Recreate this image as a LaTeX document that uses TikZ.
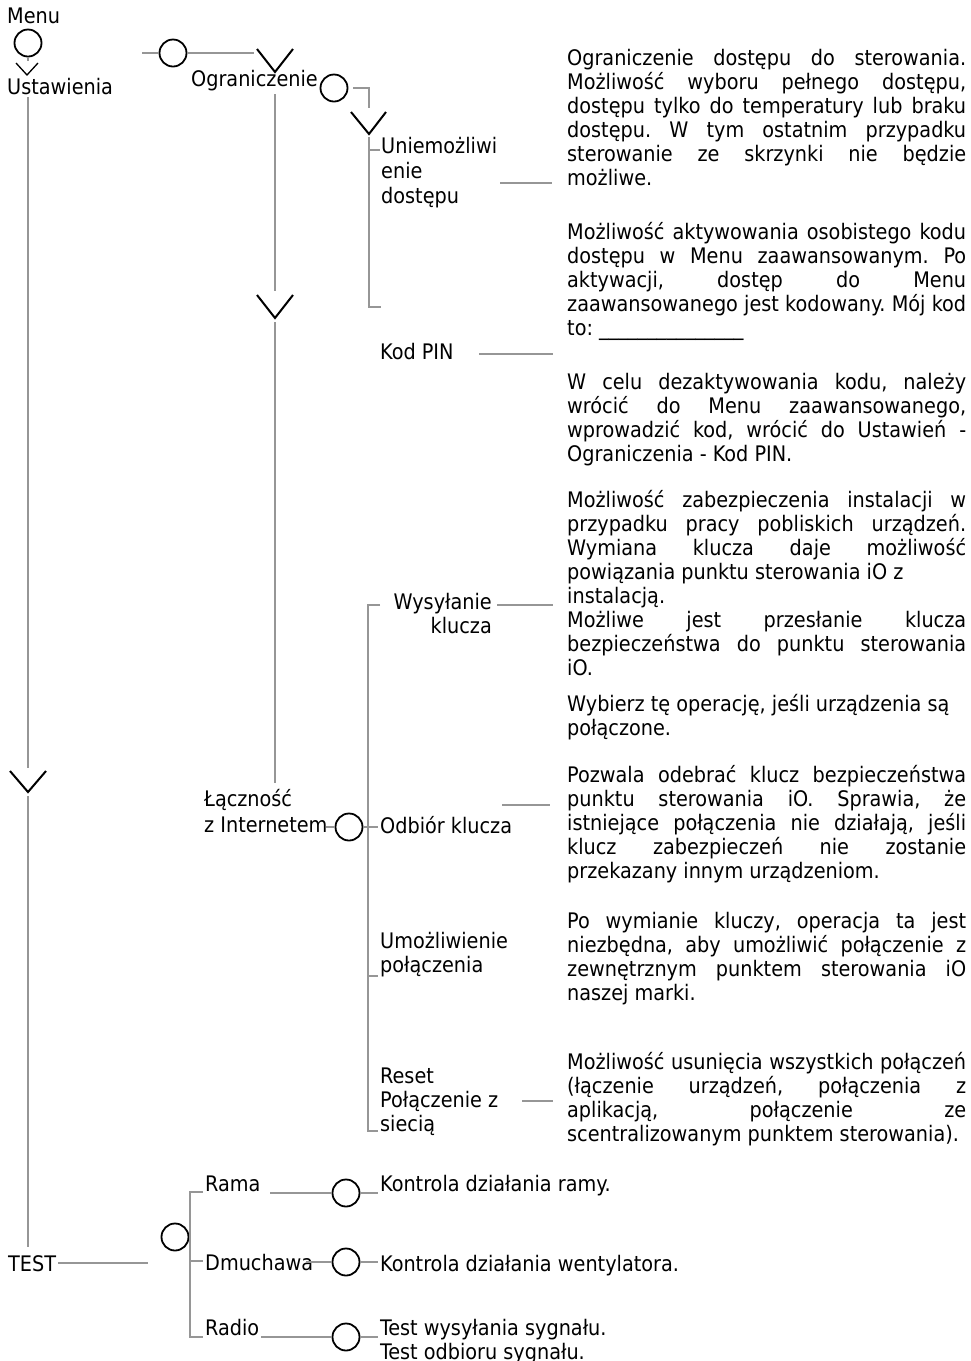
\documentclass[tikz,border=0pt]{standalone}
\usepackage{fontspec}
\IfFontExistsTF{DejaVu Sans Condensed}{\setmainfont{DejaVu Sans Condensed}}{\setmainfont{DejaVu Sans}[FakeStretch=0.9]}
\usetikzlibrary{calc}
\definecolor{lg}{RGB}{150,150,150}
\newlength{\pw}\setlength{\pw}{399pt}
\newcommand{\jl}[1]{\makebox[\pw][s]{#1}\\}
\frenchspacing
\begin{document}
\begin{tikzpicture}[x=1pt,y=-1pt,
  gl/.style={draw=lg,line width=2.8pt},
  vm/.style={draw=black,line width=2pt},
  circ/.style={circle,draw=black,line width=1.8pt,minimum size=27pt,inner sep=0pt},
  lbl/.style={anchor=base west,inner sep=0pt,font=\fontsize{21.4}{24}\selectfont\frenchspacing},
  rlbl/.style={anchor=base east,inner sep=0pt,font=\fontsize{21.4}{24}\selectfont}]
\useasboundingbox (0,0) rectangle (971,1361);

% ---------- left column ----------
\node[lbl] (menu) at (7,23) {Menu};
\node[circ] (c0) at (28,43) {};
\coordinate (v0) at (27,75);
\draw[draw=lg,line width=1.5pt] (c0.south) -- ++(0,4);
\draw[draw=black,line width=1.3pt] ($(v0)+(-11,-12)$) -- (v0) -- ++(11,-12);
\node[lbl] (ust) at (7,94) {Ustawienia};
\coordinate (L0) at (28,97);
\coordinate (L1) at (28,768);
\coordinate (vL) at (28,792);
\coordinate (L2) at (28,796);
\coordinate (L3) at (28,1247);
\draw[gl] (L0) -- (L1);
\draw[vm] ($(vL)+(-18,-21)$) -- (vL) -- ++(18,-21);
\draw[gl] (L2) -- (L3);

% ---------- Ograniczenie branch ----------
\coordinate (h0) at (142,53);
\node[circ] (c1) at (173,53) {};
\coordinate (h1) at (254,53);
\draw[gl] (h0) -- (c1.west);
\draw[gl] (c1.east) -- (h1);
\coordinate (vO) at (275,72);
\draw[vm] ($(vO)+(-18,-23)$) -- (vO) -- ++(18,-23);
\node[lbl] (ogr) at (191,86) {Ograniczenie};
\coordinate (O0) at (275,94);
\coordinate (O1) at (275,291);
\coordinate (vO2) at (275,318);
\coordinate (O2) at (275,322);
\coordinate (O3) at (275,783);
\draw[gl] (O0) -- (O1);
\draw[vm] ($(vO2)+(-18,-23)$) -- (vO2) -- ++(18,-23);
\draw[gl] (O2) -- (O3);

\node[circ] (c2) at (334,88) {};
\coordinate (br0) at (369,108);
\draw[gl] ([xshift=5pt]c2.east) -| (br0);
\coordinate (vU) at (369,134);
\draw[vm] ($(vU)+(-18,-22)$) -- (vU) -- ++(17,-22);
\coordinate (U0) at (369,137);
\coordinate (U1) at (381,307);
\draw[gl] (U0) |- (U1);
\draw[gl] (369,150) -- (380,150);
\node[lbl] (unie) at (381,153) {\parbox[t]{150pt}{\baselineskip=25pt Uniemożliwi\\enie\\dostępu}};
\coordinate (cu0) at (500,183);
\coordinate (cu1) at (552,183);
\draw[gl] (cu0) -- (cu1);

\node[lbl] (pin) at (380,359) {Kod PIN};
\coordinate (cp0) at (479,354);
\coordinate (cp1) at (553,354);
\draw[gl] (cp0) -- (cp1);

% ---------- Lacznosc branch ----------
\node[rlbl] (wys) at (492,609) {\parbox[t]{130pt}{\raggedleft Wysyłanie\\klucza}};
\coordinate (cw0) at (497,605);
\coordinate (cw1) at (553,605);
\draw[gl] (cw0) -- (cw1);
\coordinate (W0) at (380,605);
\coordinate (W1) at (378,1131);
\draw[gl] (W0) -- (368,605) |- (W1);
\draw[gl] (368,976) -- (378,976);

\node[lbl] (lacz) at (204,806) {\parbox[t]{150pt}{\baselineskip=26pt Łączność\\z Internetem}};
\node[circ] (c3) at (349,827) {};
\coordinate (ci0) at (326,827);
\coordinate (ci1) at (378,827);
\draw[gl] (ci0) -- (c3.west);
\draw[gl] (c3.east) -- (ci1);
\node[lbl] (odb) at (380,833) {Odbiór klucza};
\coordinate (co0) at (502,805);
\coordinate (co1) at (550,805);
\draw[gl] (co0) -- (co1);

\node[lbl] (umo) at (380,948) {\parbox[t]{150pt}{Umożliwienie\\połączenia}};
\node[lbl] (res) at (380,1083) {\parbox[t]{150pt}{Reset\\Połączenie z\\siecią}};
\coordinate (cr0) at (522,1101);
\coordinate (cr1) at (553,1101);
\draw[gl] (cr0) -- (cr1);

% ---------- TEST branch ----------
\node[lbl] (test) at (8,1271) {TEST};
\coordinate (t0) at (58,1263);
\coordinate (t1) at (148,1263);
\draw[gl] (t0) -- (t1);
\node[circ] (c4) at (175,1237) {};
\coordinate (tb0) at (203,1192);
\coordinate (tb1) at (203,1337);
\draw[gl] (tb0) -- (190,1192) |- (tb1);
\draw[gl] (190,1261) -- (203,1261);

\node[lbl] (rama) at (205,1191) {Rama};
\node[circ] (c5) at (346,1193) {};
\coordinate (r0) at (270,1193);
\coordinate (r1) at (378,1193);
\draw[gl] (r0) -- (c5.west);
\draw[gl] (c5.east) -- (r1);
\node[lbl] (krama) at (380,1191) {Kontrola działania ramy.};

\node[lbl] (dmu) at (205,1270) {Dmuchawa};
\node[circ] (c6) at (346,1262) {};
\coordinate (d0) at (306,1262);
\coordinate (d1) at (378,1262);
\draw[gl] (d0) -- (c6.west);
\draw[gl] (c6.east) -- (d1);
\node[lbl] (kwent) at (380,1271) {Kontrola działania wentylatora.};

\node[lbl] (radio) at (205,1335) {Radio};
\node[circ] (c7) at (346,1337) {};
\coordinate (q0) at (261,1337);
\coordinate (q1) at (378,1337);
\draw[gl] (q0) -- (c7.west);
\draw[gl] (c7.east) -- (q1);
\node[lbl] (ktest) at (380,1335) {\parbox[t]{300pt}{Test wysyłania sygnału.\\Test odbioru sygnału.}};

% ---------- descriptions ----------
\node[lbl] (p1) at (567,65) {\parbox[t]{\pw}{%
\jl{Ograniczenie dostępu do sterowania.}
\jl{Możliwość wyboru pełnego dostępu,}
\jl{dostępu tylko do temperatury lub braku}
\jl{dostępu. W tym ostatnim przypadku}
\jl{sterowanie ze skrzynki nie będzie}
możliwe.}};

\node[lbl] (p2) at (567,239) {\parbox[t]{\pw}{%
\jl{Możliwość aktywowania osobistego kodu}
\jl{dostępu w Menu zaawansowanym. Po}
\jl{aktywacji, dostęp do Menu}
\jl{zaawansowanego jest kodowany. Mój kod}
to: \_\_\_\_\_\_\_\_\_\_\_\_\_\_\_}};

\node[lbl] (p3) at (567,389) {\parbox[t]{\pw}{%
\jl{W celu dezaktywowania kodu, należy}
\jl{wrócić do Menu zaawansowanego,}
\jl{wprowadzić kod, wrócić do Ustawień -}
Ograniczenia - Kod PIN.}};

\node[lbl] (p4) at (567,507) {\parbox[t]{\pw}{%
\jl{Możliwość zabezpieczenia instalacji w}
\jl{przypadku pracy pobliskich urządzeń.}
\jl{Wymiana klucza daje możliwość}
powiązania punktu sterowania iO z\\
instalacją.\\
\jl{Możliwe jest przesłanie klucza}
\jl{bezpieczeństwa do punktu sterowania}
iO.\\[12pt]
Wybierz tę operację, jeśli urządzenia są\\
połączone.}};

\node[lbl] (p5) at (567,782) {\parbox[t]{\pw}{%
\jl{Pozwala odebrać klucz bezpieczeństwa}
\jl{punktu sterowania iO. Sprawia, że}
\jl{istniejące połączenia nie działają, jeśli}
\jl{klucz zabezpieczeń nie zostanie}
przekazany innym urządzeniom.}};

\node[lbl] (p6) at (567,928) {\parbox[t]{\pw}{%
\jl{Po wymianie kluczy, operacja ta jest}
\jl{niezbędna, aby umożliwić połączenie z}
\jl{zewnętrznym punktem sterowania iO}
naszej marki.}};

\node[lbl] (p7) at (567,1069) {\parbox[t]{\pw}{%
\jl{Możliwość usunięcia wszystkich połączeń}
\jl{(łączenie urządzeń, połączenia z}
\jl{aplikacją, połączenie ze}
scentralizowanym punktem sterowania).}};
\end{tikzpicture}
\end{document}
